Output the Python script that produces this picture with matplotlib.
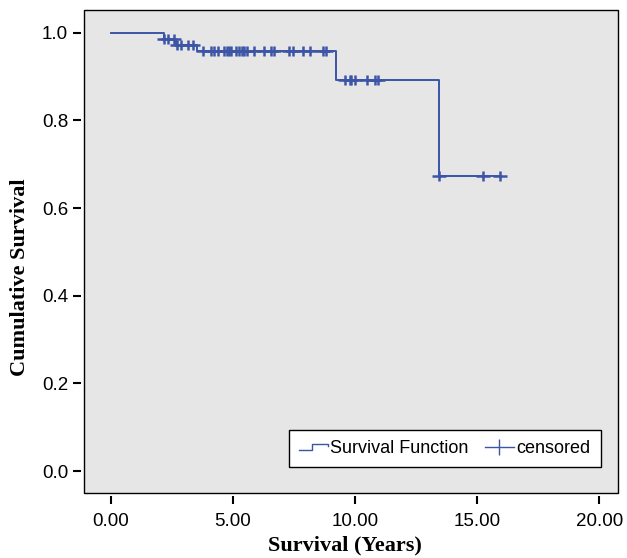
import numpy as np
import matplotlib
matplotlib.use("Agg")
import matplotlib.pyplot as plt
from matplotlib.lines import Line2D
from matplotlib.path import Path
from matplotlib.legend_handler import HandlerBase

# Kaplan-Meier curve
event_times = [0.0, 2.17, 2.66, 3.53, 9.24, 13.43]
surv_levels = [1.0, 0.986, 0.972, 0.958, 0.893, 0.673]
end_time = 15.94

censor_times = [2.20, 2.34, 2.58, 2.72, 2.89, 3.18, 3.37, 3.76, 4.10, 4.21,
                4.41, 4.65, 4.75, 4.85, 4.93, 5.12, 5.27, 5.37, 5.47, 5.57,
                5.85, 6.28, 6.56, 6.67, 7.31, 7.48, 7.87, 8.14, 8.69, 8.82,
                9.59, 9.78, 9.84, 10.00, 10.48, 10.82, 10.96, 13.43, 15.23, 15.94]

x_ticks = [0, 5, 10, 15, 20]
x_ticklabels = ["0.00", "5.00", "10.00", "15.00", "20.00"]
y_ticks = [0.0, 0.2, 0.4, 0.6, 0.8, 1.0]
y_ticklabels = ["0.0", "0.2", "0.4", "0.6", "0.8", "1.0"]

BLUE = "#3c55a7"
SANS = "Liberation Sans"
SERIF = "Liberation Serif"

# level of the step function at each censored time
idx = np.searchsorted(event_times, censor_times, side="right") - 1
censor_surv = np.array(surv_levels)[idx]

# plus sign, wider than tall
cross = Path([(-1.4, 0), (1.4, 0), (0, -1), (0, 1)],
             [Path.MOVETO, Path.LINETO, Path.MOVETO, Path.LINETO])


class StepHandler(HandlerBase):
    def create_artists(self, legend, orig_handle, xdescent, ydescent,
                       width, height, fontsize, trans):
        x0, w = -xdescent, width
        lo, hi = -ydescent + 0.2 * height, -ydescent + 0.75 * height
        xs = [x0, x0 + 0.45 * w, x0 + 0.45 * w, x0 + w, x0 + w]
        ys = [lo, lo, hi, hi, hi - 0.2 * height]
        ln = Line2D(xs, ys, color=BLUE, lw=1.0, transform=trans)
        return [ln]


fig = plt.figure(figsize=(6.27, 5.58), dpi=100)
ax = fig.add_axes([0.134, 0.1165, 0.851, 0.8655])
ax.set_facecolor("#e6e6e6")

xs = event_times + [end_time]
ys = surv_levels + [surv_levels[-1]]
ax.step(xs, ys, where="post", color=BLUE, lw=1.4, zorder=3)
ax.plot(censor_times, censor_surv, ls="none", marker=cross, ms=9.5,
        mew=1.8, color=BLUE, zorder=4)

ax.set_xlim(-1.09, 20.75)
ax.set_ylim(-0.05, 1.052)
ax.set_xticks(x_ticks, x_ticklabels)
ax.set_yticks(y_ticks, y_ticklabels)
ax.tick_params(direction="out", length=6, width=1.5, color="black",
               labelsize=13.5, labelfontfamily=SANS)
ax.tick_params(axis="x", pad=6)
ax.tick_params(axis="y", pad=3)

# ticks sit a little outside the frame; frame drawn by the axes patch
for side in ["left", "bottom"]:
    ax.spines[side].set_position(("outward", 2.5))
    ax.spines[side].set_visible(False)
for side in ["top", "right"]:
    ax.spines[side].set_visible(False)
ax.patch.set_edgecolor("black")
ax.patch.set_linewidth(1.0)

ax.set_xlabel("Survival (Years)", fontfamily=SERIF, fontweight="bold", fontsize=16)
ax.set_ylabel("Cumulative Survival", fontfamily=SERIF, fontweight="bold", fontsize=16)
ax.xaxis.set_label_coords(0.489, -0.089)
ax.yaxis.set_label_coords(-0.102, 0.447)

h_surv = Line2D([], [], color=BLUE)
h_cens = Line2D([0], [0], color=BLUE, lw=1.0, marker="|", ms=12, mew=1.0)
leg = ax.legend([h_surv, h_cens], ["Survival Function", "censored"],
                handler_map={h_surv: StepHandler()},
                loc="lower right", bbox_to_anchor=(0.968, 0.054),
                borderaxespad=0, ncol=2, fancybox=False, framealpha=1,
                edgecolor="black", prop={"family": SANS, "size": 13},
                handlelength=1.6, handletextpad=0.15, columnspacing=0.9,
                borderpad=0.55)
leg.get_frame().set_linewidth(1.0)

fig.savefig("out.png", dpi=100)
